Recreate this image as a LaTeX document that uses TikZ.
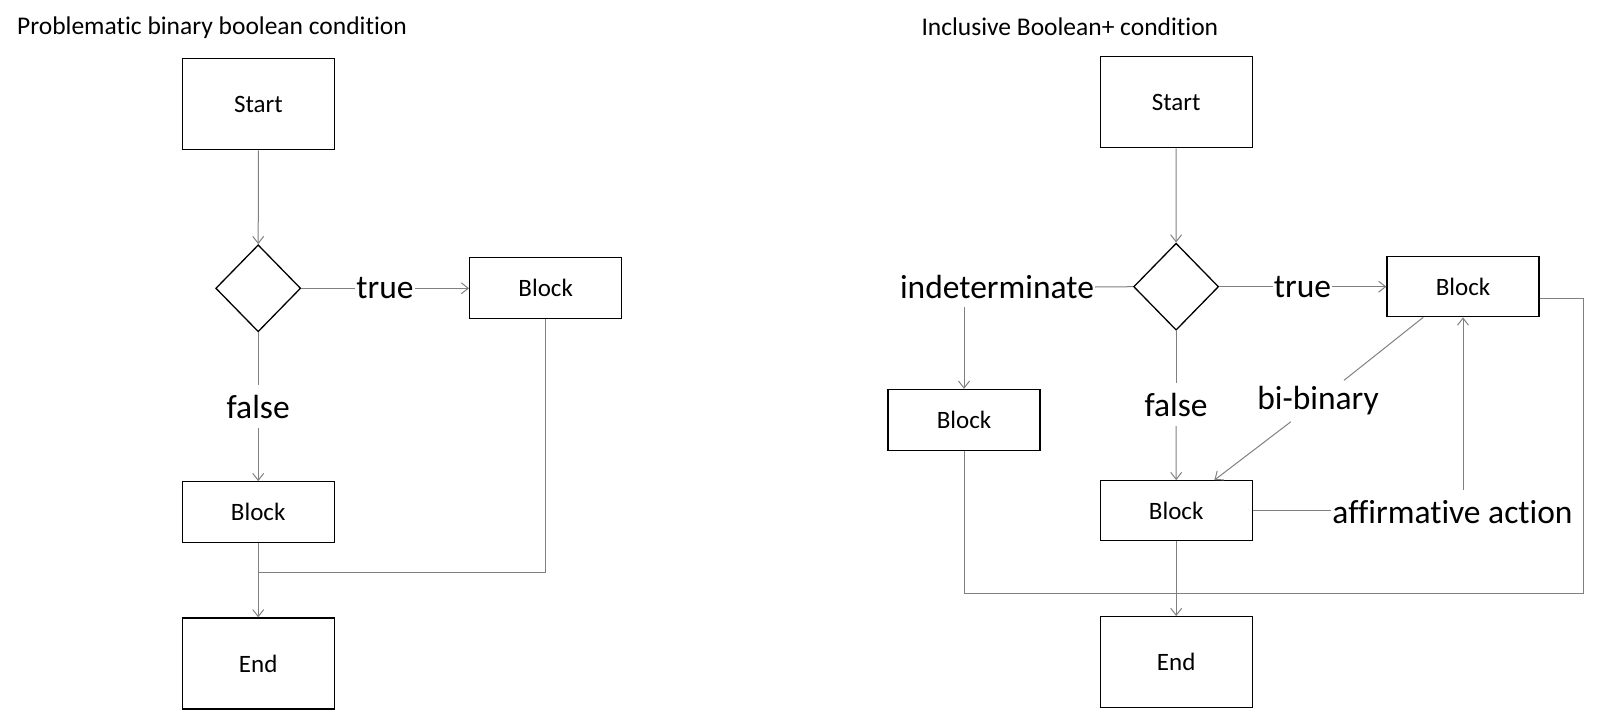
\documentclass[tikz,border=0pt]{standalone}
\usepackage{fontspec}
\setmainfont{Carlito}[Ligatures={NoCommon}]
\usetikzlibrary{shapes.geometric,arrows.meta}
\definecolor{linegray}{HTML}{808080}
\begin{document}
\begin{tikzpicture}[x=1pt,y=-1pt,
  box/.style={draw=black,line width=1.3pt,rectangle,inner sep=0pt,minimum width=152pt,font=\fontsize{25}{30}\selectfont},
  dec/.style={draw=black,line width=1.3pt,diamond,inner sep=0pt,minimum width=85pt,minimum height=87pt},
  lbl/.style={inner xsep=1pt,inner ysep=0pt,font=\fontsize{33.5}{40}\selectfont},
  ttl/.style={anchor=west,inner sep=0pt,font=\fontsize{25.5}{30}\selectfont},
  conn/.style={draw=linegray,line width=1pt},
  arr/.style={conn,-{Straight Barb[length=7pt,width=11pt]}}
]
\useasboundingbox (0,0) rectangle (1600,720);
% ---------- left panel ----------
\node[ttl] (t1) at (17,28) {Problematic binary boolean condition};
\node[box,minimum height=91pt] (s1) at (258.4,104.2) {Start};
\node[dec] (d1) at (258.2,288.3) {};
\node[lbl] (tr1) at (385,288.3) {true};
\node[box,minimum height=61pt] (b1) at (545.7,288.3) {Block};
\node[lbl,minimum height=43pt] (f1) at (258.2,406.5) {false};
\node[box,minimum height=61pt] (b2) at (258.2,512.3) {Block};
\node[box,minimum height=91pt] (e1) at (258.2,663.5) {End};
\coordinate (j1) at (258.2,572.7);

\draw[arr] (s1.south) -- (d1.north);
\draw[conn] (d1.east) -- (tr1.west);
\draw[arr] (tr1.east) -- (b1.west);
\draw[conn] (d1.south) -- (f1.north);
\draw[arr] (f1.south) -- (b2.north);
\draw[arr] (b2.south) -- (e1.north);
\draw[conn] (b1.south) |- (j1);

% ---------- right panel ----------
\node[ttl] (t2) at (921.3,27) {Inclusive Boolean+ condition};
\node[box,minimum height=91pt] (s2) at (1176.2,102.2) {Start};
\node[dec] (d2) at (1176.1,286.7) {};
\node[lbl,minimum height=40pt] (ind) at (997,287) {indeterminate};
\node[lbl] (tr2) at (1302.5,286.7) {true};
\node[box,minimum height=60pt] (b3) at (1463,286.7) {Block};
\node[box,minimum height=61pt] (lb) at (964,420) {Block};
\node[lbl,minimum height=43pt] (f2) at (1176.1,404.5) {false};
\node[lbl,minimum height=41pt] (bb) at (1318,401) {bi-binary};
\node[box,minimum height=60pt] (b4) at (1176.2,510.8) {Block};
\node[lbl,minimum height=44pt] (aa) at (1452.5,512) {affirmative action};
\node[box,minimum height=91pt] (e2) at (1176.2,662.2) {End};
\coordinate (r1) at (1583.8,298);
\coordinate (r2) at (1583.8,593.3);

\draw[arr] (s2.south) -- (d2.north);
\draw[conn] (d2.west) -- (ind.east);
\draw[arr] (lb.north |- ind.south) -- (lb.north);
\draw[conn] (d2.east) -- (tr2.west);
\draw[arr] (tr2.east) -- (b3.west);
\draw[conn] (d2.south) -- (f2.north);
\draw[arr] (f2.south) -- (b4.north);
\draw[conn] ([xshift=-39.8pt]b3.south) -- (bb);
\draw[arr] (bb) -- ([xshift=38.1pt]b4.north);
\draw[conn] (b4.east) -- (aa.west |- b4.east);
\draw[arr] (b3.south |- aa.north) -- (b3.south);
\draw[conn] (b3.east |- r1) -- (r1) -- (r2) -| (lb.south);
\draw[arr] (b4.south) -- (e2.north);
\end{tikzpicture}
\end{document}
